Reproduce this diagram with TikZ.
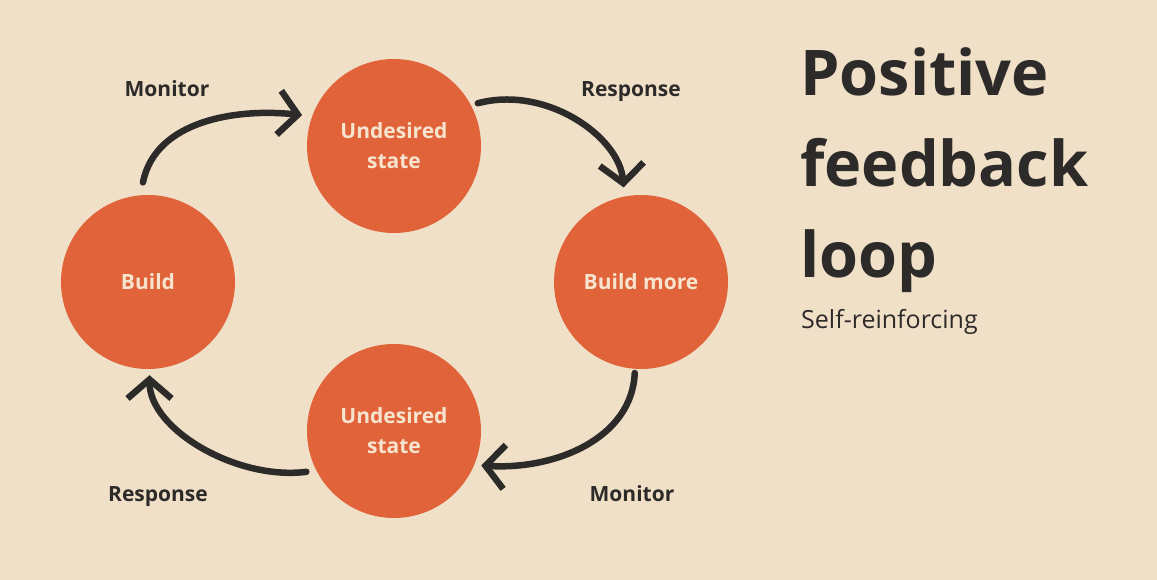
\documentclass[tikz,border=0pt]{standalone}
\usepackage{fontspec}
\setmainfont{Open Sans}
\usetikzlibrary{arrows.meta}
\definecolor{paper}{HTML}{F1E0C8}
\definecolor{accent}{HTML}{E0633A}
\definecolor{ink}{HTML}{2D2B29}
\definecolor{cream}{HTML}{F7E4CF}

\begin{document}
\begin{tikzpicture}[x=1pt, y=-1pt,
    stage/.style={circle, fill=accent, minimum size=174pt, inner sep=0pt,
                  align=center, text=cream,
                  font=\fontsize{21}{30}\selectfont\bfseries},
    cue/.style={anchor=base, text=ink, font=\fontsize{21}{25}\selectfont\bfseries},
    curvearrow/.style={-{Straight Barb[length=19pt, width=44pt]}, line width=6.5pt,
                       line cap=round, draw=ink},
  ]
  \fill[paper] (0,0) rectangle (1157,580);
  \useasboundingbox (0,0) rectangle (1157,580);
  \node[stage] (top)   at (394,146) {Undesired\\state};
  \node[stage] (build) at (148,282) {Build};
  \node[stage] (more)  at (641,282) {Build more};
  \node[stage] (bot)   at (394,431) {Undesired\\state};
  % arrows round the loop
  \draw[curvearrow, shorten <=13pt, shorten >=10pt] (build.95)
        .. controls +(15,-75) and +(-75,-8) .. (top.160);
  \draw[curvearrow, shorten <=7pt, shorten >=9pt] (top.28)
        .. controls +(75,-20) and +(-5,-60) .. (more.101);
  \draw[curvearrow, shorten <=4pt, shorten >=7pt] (more.266)
        .. controls +(-3,70) and +(80,5) .. (bot.337);
  \draw[curvearrow, shorten <=10pt, shorten >=6pt] (bot.207)
        .. controls +(-80,10) and +(0,60) .. (build.271);
  % labels
  \node[cue] (mon1)  at (167,97)  {Monitor};
  \node[cue] (resp1) at (631,97)  {Response};
  \node[cue] (mon2)  at (632,501) {Monitor};
  \node[cue] (resp2) at (158,501) {Response};
  % title
  \node[anchor=base west, align=left, text=ink, inner sep=0pt,
        font=\fontsize{63}{91}\selectfont\bfseries] (title) at (800,277)
        {Positive\\feedback\\loop};
  \node[anchor=base west, text=ink, inner sep=0pt,
        font=\fontsize{25}{30}\selectfont] (sub) at (801,328) {Self-reinforcing};
\end{tikzpicture}
\end{document}
